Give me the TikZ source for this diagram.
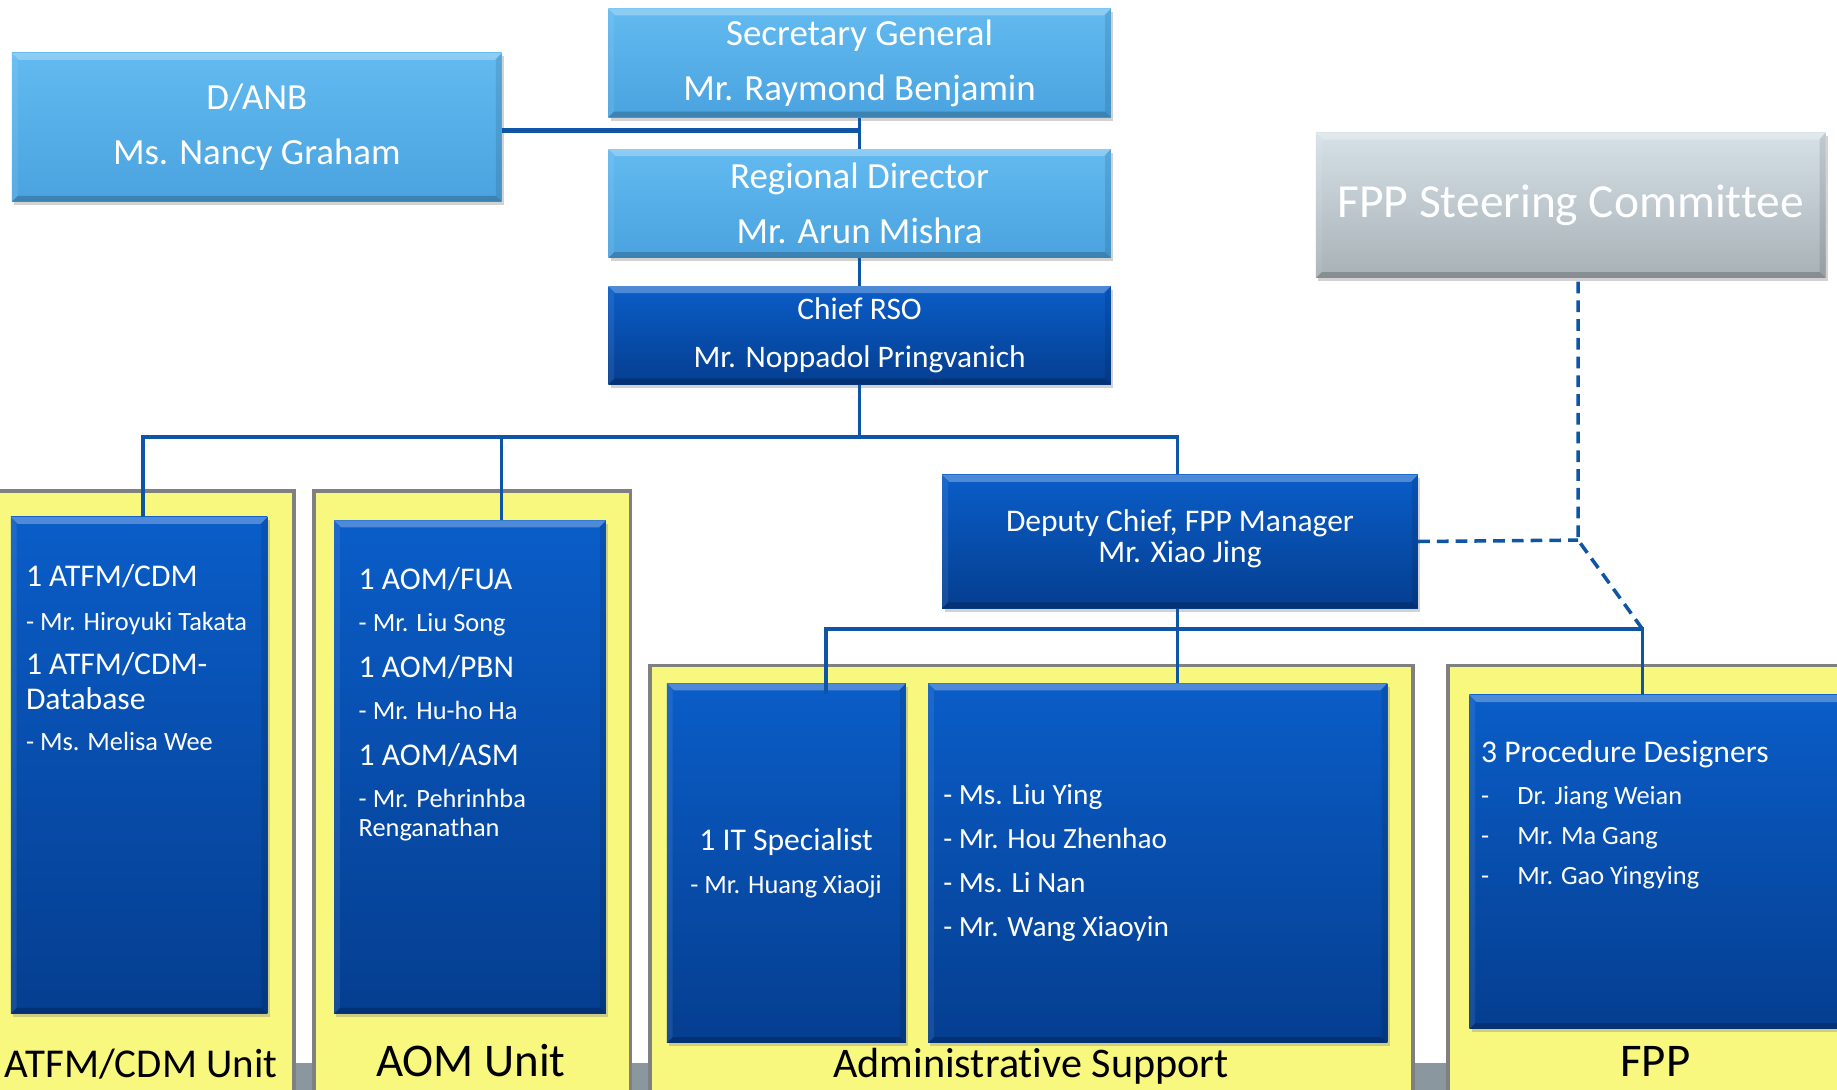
\documentclass[tikz,border=0pt]{standalone}
\usepackage{fontspec}
\setmainfont{Carlito}[Ligatures=NoCommon]
\usetikzlibrary{shadows}
\definecolor{lbtop}{HTML}{62BAF0}
\definecolor{lbbot}{HTML}{4AA3DF}
\definecolor{dbtop}{HTML}{0A5DC8}
\definecolor{dbbot}{HTML}{053E90}
\definecolor{grtop}{HTML}{D6E1E7}
\definecolor{grbot}{HTML}{A7B1B6}
\definecolor{ylw}{HTML}{F8F87E}
\definecolor{bordergray}{HTML}{808080}
\definecolor{connblue}{HTML}{0F55A5}
\definecolor{bandgray}{HTML}{8A979E}
\tikzset{
 bevelfx/.style={path picture={
   \fill[white,opacity=0.28] (path picture bounding box.north west) -- (path picture bounding box.north east) -- ([xshift=-6pt,yshift=-6pt]path picture bounding box.north east) -- ([xshift=6pt,yshift=-6pt]path picture bounding box.north west) -- cycle;
   \fill[black,opacity=0.2] (path picture bounding box.south west) -- (path picture bounding box.south east) -- ([xshift=-5pt,yshift=5pt]path picture bounding box.south east) -- ([xshift=5pt,yshift=5pt]path picture bounding box.south west) -- cycle;
   \fill[black,opacity=0.1] (path picture bounding box.north east) -- (path picture bounding box.south east) -- ([xshift=-5pt,yshift=5pt]path picture bounding box.south east) -- ([xshift=-5pt,yshift=-6pt]path picture bounding box.north east) -- cycle;
   \fill[white,opacity=0.08] (path picture bounding box.north west) -- (path picture bounding box.south west) -- ([xshift=5pt,yshift=5pt]path picture bounding box.south west) -- ([xshift=5pt,yshift=-6pt]path picture bounding box.north west) -- cycle;
 }},
 boxbase/.style={rectangle, inner sep=0pt, anchor=north west, text=white, align=center, drop shadow={opacity=0.35, shadow xshift=2pt, shadow yshift=-3pt}, bevelfx},
 ltbox/.style={boxbase, top color=lbtop, bottom color=lbbot, font=\fontsize{31.5}{47}\selectfont},
 dkbox/.style={boxbase, top color=dbtop, bottom color=dbbot},
 grbox/.style={boxbase, top color=grtop, bottom color=grbot, font=\fontsize{40.5}{48}\selectfont},
 unitbox/.style={fill=ylw, draw=bordergray, line width=3pt},
 unitlabel/.style={anchor=base, text=black, inner sep=0pt},
 hd/.style={anchor=base west, text=white, inner sep=0pt, font=\fontsize{27}{32}\selectfont},
 nm/.style={anchor=base west, text=white, inner sep=0pt, font=\fontsize{22.5}{27}\selectfont},
 nmb/.style={anchor=base west, text=white, inner sep=0pt, font=\fontsize{25}{30}\selectfont},
 conn/.style={draw=connblue, line width=3pt},
 dashconn/.style={conn, dash pattern=on 10pt off 6pt},
}
\begin{document}
\begin{tikzpicture}[x=1pt,y=-1pt]
\useasboundingbox (0,0) rectangle (1568,930);
\clip (0,0) rectangle (1568,930);
\fill[white] (0,0) rectangle (1568,930);
% bottom band
\fill[bandgray] (0,907) rectangle (1568,930);
% unit containers
\path[unitbox] (-10,419) rectangle (251,950);
\path[unitbox] (268,419) rectangle (538,950);
\path[unitbox] (555,568) rectangle (1206,950);
\path[unitbox] (1236,568) rectangle (1600,950);
\node[unitlabel, anchor=base east, font=\fontsize{35}{40}\selectfont] (latfm) at (237,920) {ATFM/CDM Unit};
\node[unitlabel, font=\fontsize{40}{44}\selectfont] (laom) at (402,919) {AOM Unit};
\node[unitlabel, font=\fontsize{36}{40}\selectfont] (ladm) at (880,920) {Administrative Support};
\node[unitlabel, font=\fontsize{40}{44}\selectfont] (lfpp) at (1413,919) {FPP};
% top boxes
\node[ltbox, minimum width=418pt, minimum height=127pt] (danb) at (10,45) {D/ANB\\Ms. Nancy Graham};
\node[ltbox, minimum width=429pt, minimum height=93pt] (sg) at (519,7) {Secretary General\\Mr. Raymond Benjamin};
\node[ltbox, minimum width=429pt, minimum height=93pt] (rd) at (519,127) {Regional Director\\Mr. Arun Mishra};
\node[dkbox, minimum width=429pt, minimum height=84pt, font=\fontsize{26.8}{41}\selectfont] (rso) at (519,244) {Chief RSO\\Mr. Noppadol Pringvanich};
\node[grbox, minimum width=435pt, minimum height=124pt] (steer) at (1123,113) {FPP Steering Committee};
\node[dkbox, minimum width=406pt, minimum height=114pt, font=\fontsize{26.9}{27}\selectfont] (deputy) at (804,405) {Deputy Chief, FPP Manager\\Mr. Xiao Jing\\[-18pt]};
% staff boxes
\node[dkbox, minimum width=219pt, minimum height=424pt] (atfm) at (9,441) {};
\node[dkbox, minimum width=232pt, minimum height=421pt] (aom) at (285,444) {};
\node[dkbox, minimum width=204pt, minimum height=307pt] (it) at (569,583) {};
\node[dkbox, minimum width=392pt, minimum height=307pt] (adm) at (792,583) {};
\node[dkbox, minimum width=340pt, minimum height=285pt] (fpp) at (1254,593) {};
% ATFM text
\node[hd] (a1) at (22,501) {1 ATFM/CDM};
\node[nm] (a2) at (22,538) {- Mr. Hiroyuki Takata};
\node[hd] (a3) at (22,576) {1 ATFM/CDM-};
\node[hd] (a4) at (22,606) {Database};
\node[nm] (a5) at (22,641) {- Ms. Melisa Wee};
% AOM text
\node[hd] (o1) at (306,503) {1 AOM/FUA};
\node[nm] (o2) at (306,539) {- Mr. Liu Song};
\node[hd] (o3) at (306,578) {1 AOM/PBN};
\node[nm] (o4) at (306,614) {- Mr. Hu-ho Ha};
\node[hd] (o5) at (306,653) {1 AOM/ASM};
\node[nm] (o6) at (306,689) {- Mr. Pehrinhba};
\node[nm] (o7) at (306,714) {Renganathan};
% IT text
\node[hd, anchor=base] (i1) at (671,726) {1 IT Specialist};
\node[nm, anchor=base] (i2) at (671,763) {- Mr. Huang Xiaoji};
% admin names
\node[nmb] (d1) at (805,687) {- Ms. Liu Ying};
\node[nmb] (d2) at (805,724) {- Mr. Hou Zhenhao};
\node[nmb] (d3) at (805,762) {- Ms. Li Nan};
\node[nmb] (d4) at (805,799) {- Mr. Wang Xiaoyin};
% FPP text
\node[hd] (f1) at (1264,651) {3 Procedure Designers};
\node[nm] (f2a) at (1264,687) {-};
\node[nm] (f2) at (1295,687) {Dr. Jiang Weian};
\node[nm] (f3a) at (1264,721) {-};
\node[nm] (f3) at (1295,721) {Mr. Ma Gang};
\node[nm] (f4a) at (1264,755) {-};
\node[nm] (f4) at (1295,755) {Mr. Gao Yingying};
% connectors
\coordinate (bus1L) at (122,373);
\coordinate (bus1M) at (428,373);
\coordinate (bus1R) at (1005,373);
\coordinate (bus2L) at (705,537);
\coordinate (bus2R) at (1402,537);
\coordinate (djn) at (1347,461);
\draw[conn, line width=4pt] ([yshift=-2.5pt]danb.east) -- ([yshift=-2.5pt]danb.east -| sg.south);
\draw[conn] (sg.south) -- (rd.north);
\draw[conn] (rd.south) -- (rso.north);
\draw[conn] (rso.south) -- (rso.south |- bus1L);
\draw[conn] (bus1L |- atfm.north) -- (bus1L) -- (bus1R) -- (bus1R |- deputy.north);
\draw[conn] (bus1M) -- (bus1M |- aom.north);
\draw[conn] (deputy.south -| bus1R) -- (bus1R |- adm.north);
\draw[conn] ([yshift=-9pt]bus2L |- it.north) -- (bus2L) -- (bus2R) -- (bus2R |- fpp.north);
\draw[dashconn] (deputy.east) -- (djn);
\draw[dashconn] ([yshift=-3pt]steer.south -| djn) -- (djn) -- (bus2R);
\end{tikzpicture}
\end{document}
